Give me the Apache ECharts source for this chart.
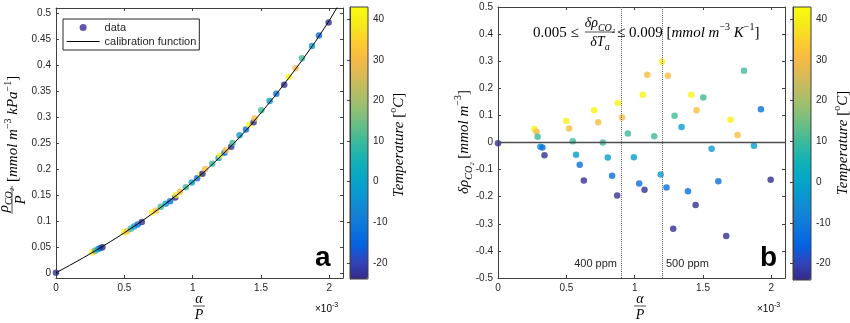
<!DOCTYPE html>
<html><head><meta charset="utf-8">
<script src="https://cdn.jsdelivr.net/npm/echarts@6/dist/echarts.min.js"></script>
<style>html,body{margin:0;padding:0;background:#fff}#c{width:850px;height:323px}</style>
</head><body><div id="c"></div>
<script>
// ---- data ----
const alphaP   = [0.000,0.266,0.281,0.290,0.310,0.325,0.340,0.500,0.520,0.547,0.571,0.598,0.628,0.703,0.733,0.767,0.803,0.835,0.872,0.877,0.908,0.950,0.994,1.033,1.060,1.072,1.092,1.143,1.190,1.200,1.233,1.243,1.282,1.292,1.343,1.390,1.414,1.446,1.453,1.502,1.563,1.612,1.670,1.702,1.753,1.800,1.873,1.924,1.995];
const deltaRho = [-0.003,0.050,0.040,0.021,-0.016,-0.018,-0.047,0.079,0.052,0.005,-0.045,-0.082,-0.140,0.119,0.075,0.000,-0.055,-0.123,-0.196,0.146,0.092,0.033,-0.054,-0.151,0.176,-0.174,0.250,0.023,-0.118,0.298,-0.166,0.246,-0.318,0.099,0.057,-0.180,0.176,-0.231,0.119,0.166,-0.023,-0.143,-0.345,0.084,0.028,0.265,-0.012,0.123,-0.137];
const rhoP     = [0.000,0.039,0.042,0.043,0.046,0.048,0.049,0.078,0.080,0.085,0.089,0.093,0.098,0.116,0.120,0.127,0.133,0.138,0.145,0.150,0.156,0.165,0.174,0.182,0.190,0.191,0.200,0.210,0.221,0.226,0.231,0.236,0.243,0.250,0.265,0.276,0.285,0.290,0.297,0.313,0.331,0.345,0.362,0.377,0.394,0.413,0.437,0.457,0.482];
const tempC    = [-23,41,31,10,-2,-13,-23,41,31,10,-2,-13,-23,41,31,10,-2,-13,-23,41,31,10,-2,-13,41,-23,31,10,-2,41,-13,31,-23,10,-2,-13,41,-23,31,10,-2,-13,-23,41,31,10,-2,-13,-23];
const curveX   = [0,0.1,0.2,0.3,0.4,0.5,0.6,0.7,0.8,0.9,1.0,1.1,1.2,1.3,1.4,1.5,1.6,1.7,1.8,1.9,2.0,2.1];
const curveY   = [0,0.0143,0.029,0.0444,0.0603,0.077,0.0945,0.113,0.1325,0.1531,0.175,0.198,0.223,0.249,0.277,0.308,0.340,0.374,0.409,0.446,0.486,0.530];
const xTicks   = [0,0.5,1,1.5,2];
const yTicksA  = [0,0.05,0.1,0.15,0.2,0.25,0.3,0.35,0.4,0.45,0.5];
const yTicksB  = [-0.5,-0.4,-0.3,-0.2,-0.1,0,0.1,0.2,0.3,0.4,0.5];
const cbTicks  = [-20,-10,0,10,20,30,40];
const ppmX     = [0.9,1.2];
const ppmText  = ['400 ppm','500 ppm'];
const parula   = ['#352a87','#3243ba','#0363e1','#0d75dc','#1485d4','#0998d1','#06a7c6','#15b1b4','#38b99e','#65be86','#92bf73','#b7bd64','#d9ba56','#f8ba44','#fcce2e','#f5eb18','#f9fb0e'];

const SANS = '"Liberation Sans", Arial, Helvetica, sans-serif';
const SERIF = '"Liberation Serif", "DejaVu Serif", "Times New Roman", serif';
const TX = '#262626';
const AX = '#404040';

function rich(size){
  const sm = Math.round(size*0.68);
  return {
    i:{fontFamily:SERIF,fontStyle:'italic',fontSize:size,lineHeight:size+6,color:TX},
    t:{fontFamily:SERIF,fontSize:size,lineHeight:size+6,color:TX},
    s:{fontFamily:SERIF,fontStyle:'italic',fontSize:sm,color:TX,verticalAlign:'bottom'},
    p:{fontFamily:SERIF,fontSize:sm,color:TX,verticalAlign:'top'},
    n:{fontFamily:SANS,fontSize:10,lineHeight:14,color:TX},
    q:{fontFamily:SANS,fontSize:7,color:TX,verticalAlign:'top'}
  };
}
function txt(x,y,text,size,align,extra){
  return Object.assign({type:'text',x:x,y:y,silent:true,z:50,style:{text:text,rich:rich(size),align:align||'center',verticalAlign:'middle'}},extra||{});
}

function xAx(grid,pos,lab){
  return {type:'value',gridIndex:grid,position:pos,min:0,max:2.1,
    axisLine:{show:true,onZero:false,lineStyle:{color:AX,width:1}},
    axisTick:{show:true,inside:true,length:3,customValues:xTicks,lineStyle:{color:AX}},
    axisLabel:{show:lab,customValues:xTicks,margin:5,fontSize:10,color:TX,fontFamily:SANS},
    splitLine:{show:false}};
}
function yAx(grid,pos,lab,min,max,ticks){
  return {type:'value',gridIndex:grid,position:pos,min:min,max:max,
    axisLine:{show:true,onZero:false,lineStyle:{color:AX,width:1}},
    axisTick:{show:true,inside:true,length:3,customValues:ticks,lineStyle:{color:AX}},
    axisLabel:{show:lab,customValues:ticks,margin:5,fontSize:10,color:TX,fontFamily:SANS},
    splitLine:{show:false}};
}
function cbY(grid){
  return {type:'value',gridIndex:grid,position:'right',min:-24,max:43,z:10,
    axisLine:{show:true,lineStyle:{color:AX,width:1}},
    axisTick:{show:true,inside:true,length:3,customValues:cbTicks,lineStyle:{color:AX}},
    axisLabel:{show:true,customValues:cbTicks,margin:5,fontSize:10,color:TX,fontFamily:SANS},
    splitLine:{show:false}};
}
function cbX(grid){
  return {type:'value',gridIndex:grid,min:0,max:1,show:false};
}

const chart = echarts.init(document.getElementById('c'),null,{renderer:'canvas'});

const graphics = [
  // left y label
  {type:'group',x:12,y:214,rotation:Math.PI/2,silent:true,children:[
    txt(14,-8,'{i|ρ}{s|CO₂}',15),
    {type:'line',shape:{x1:0,y1:0,x2:28,y2:0},style:{stroke:TX,lineWidth:0.8}},
    txt(14,9,'{i|P}',15),
    txt(32,1.5,'{t|[}{i|mmol m}{p|−3}{i| kPa}{p|−1}{t|]}',15,'left')
  ]},
  // right y label
  txt(464,142,'{i|δρ}{s|CO₂}{t| [}{i|mmol m}{p|−3}{t|]}',15,'center',{rotation:Math.PI/2}),
  // colorbar labels
  txt(399,145,'{i|Temperature}{t| [}{p|o}{i|C}{t|]}',15,'center',{rotation:Math.PI/2}),
  txt(843,143,'{i|Temperature}{t| [}{p|o}{i|C}{t|]}',15,'center',{rotation:Math.PI/2}),
  // x labels
  txt(199,299,'{i|α}',14), {type:'line',shape:{x1:193,y1:306,x2:205,y2:306},style:{stroke:TX,lineWidth:0.8}}, txt(199,315,'{i|P}',14),
  txt(640,299,'{i|α}',14), {type:'line',shape:{x1:634,y1:306,x2:646,y2:306},style:{stroke:TX,lineWidth:0.8}}, txt(640,315,'{i|P}',14),
  txt(315,309,'{n|×10}{q|-3}',10,'left'),
  txt(757,309,'{n|×10}{q|-3}',10,'left'),
  // formula
  txt(533,33,'{t|0.005 ≤}',15,'left'),
  txt(600,23,'{i|δρ}{s|CO₂}',14),
  {type:'line',shape:{x1:585,y1:32,x2:615,y2:32},style:{stroke:TX,lineWidth:0.8}},
  txt(600,42,'{i|δT}{s|a}',14),
  txt(617,33,'{t|≤ 0.009 [}{i|mmol m}{p|−3}{i| K}{p|−1}{t|]}',15,'left'),
  // panel letters
  {type:'text',x:315,y:258,silent:true,z:50,style:{text:'a',font:'bold 28px '+SANS,fill:'#000',align:'left',verticalAlign:'middle'}},
  {type:'text',x:760,y:258,silent:true,z:50,style:{text:'b',font:'bold 28px '+SANS,fill:'#000',align:'left',verticalAlign:'middle'}}
];

const option = {
  animation:false,
  backgroundColor:'#fff',
  grid:[
    {left:56,top:8,width:287,height:270},
    {left:498,top:7,width:287,height:271},
    {left:350,top:7,width:18,height:272,show:true,borderColor:AX,borderWidth:1,z:10,backgroundColor:'transparent'},
    {left:793,top:7,width:18,height:273,show:true,borderColor:AX,borderWidth:1,z:10,backgroundColor:'transparent'}
  ],
  xAxis:[xAx(0,'bottom',true),xAx(0,'top',false),xAx(1,'bottom',true),xAx(1,'top',false),cbX(2),cbX(3)],
  yAxis:[yAx(0,'left',true,-0.01,0.51,yTicksA),yAx(0,'right',false,-0.01,0.51,yTicksA),
         yAx(1,'left',true,-0.5,0.5,yTicksB),yAx(1,'right',false,-0.5,0.5,yTicksB),cbY(2),cbY(3)],
  visualMap:[
    {type:'continuous',seriesIndex:0,dimension:2,min:-24,max:43,inRange:{color:parula},
     left:350,top:7,itemWidth:18,itemHeight:272,calculable:false,padding:0,hoverLink:false},
    {type:'continuous',seriesIndex:2,dimension:2,min:-24,max:43,inRange:{color:parula},
     left:793,top:7,itemWidth:18,itemHeight:273,calculable:false,padding:0,hoverLink:false}
  ],
  legend:{
    data:[{name:'data',icon:'circle',itemStyle:{color:'#3b2d97'}},
          {name:'calibration function',itemStyle:{color:'rgba(0,0,0,0)',borderWidth:0,opacity:0},lineStyle:{color:'#000',width:1.2}}],
    orient:'vertical',left:63,top:19,itemWidth:33,itemHeight:7,itemGap:3,
    padding:[3,3,3,3],borderColor:TX,borderWidth:1,backgroundColor:'#fff',
    textStyle:{fontSize:11,color:TX,fontFamily:SANS},selectedMode:false,z:20
  },
  series:[
    {name:'data',type:'scatter',xAxisIndex:0,yAxisIndex:0,symbolSize:6.5,
     data:alphaP.map((x,i)=>[x,rhoP[i],tempC[i]])},
    {name:'calibration function',type:'line',xAxisIndex:0,yAxisIndex:0,symbol:'none',showSymbol:false,
     lineStyle:{color:'#000',width:1},itemStyle:{color:'#000'},
     data:curveX.map((x,i)=>[x,curveY[i]])},
    {name:'resid',type:'scatter',xAxisIndex:2,yAxisIndex:2,symbolSize:6.5,
     data:alphaP.map((x,i)=>[x,deltaRho[i],tempC[i]]),
     markLine:{silent:true,symbol:'none',label:{show:false},animation:false,
       data:[
         {yAxis:0,lineStyle:{type:'solid',color:'#4d4d4d',width:1.3}},
         {xAxis:ppmX[0],lineStyle:{type:'dotted',color:'#666',width:1}},
         {xAxis:ppmX[1],lineStyle:{type:'dotted',color:'#666',width:1}}
       ]}}
  ],
  graphic:graphics
};
chart.setOption(option);

// ppm labels positioned through the axis scales
const p0 = chart.convertToPixel({xAxisIndex:2,yAxisIndex:2},[ppmX[0],-0.45]);
const p1 = chart.convertToPixel({xAxisIndex:2,yAxisIndex:2},[ppmX[1],-0.45]);
chart.setOption({graphic:graphics.concat([
  {type:'text',x:p0[0]-4,y:p0[1],silent:true,z:50,style:{text:ppmText[0],font:'11px '+SANS,fill:TX,align:'right',verticalAlign:'middle'}},
  {type:'text',x:p1[0]+4,y:p1[1],silent:true,z:50,style:{text:ppmText[1],font:'11px '+SANS,fill:TX,align:'left',verticalAlign:'middle'}}
])},{replaceMerge:['graphic']});
</script>
</body></html>
